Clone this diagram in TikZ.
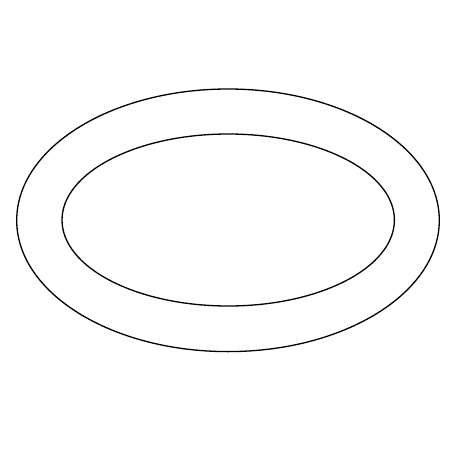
\documentclass[tikz,border=0pt]{standalone}
\begin{document}
\begin{tikzpicture}[x=1pt,y=-1pt,ring/.style={draw=black,line width=1.3pt}]
\useasboundingbox[fill=white] (0,0) rectangle (452,452);
\draw[ring] (228,220.3) ellipse [x radius=211.3, y radius=131.3];
\draw[ring] (228.2,220) ellipse [x radius=166.2, y radius=86];
\end{tikzpicture}
\end{document}
